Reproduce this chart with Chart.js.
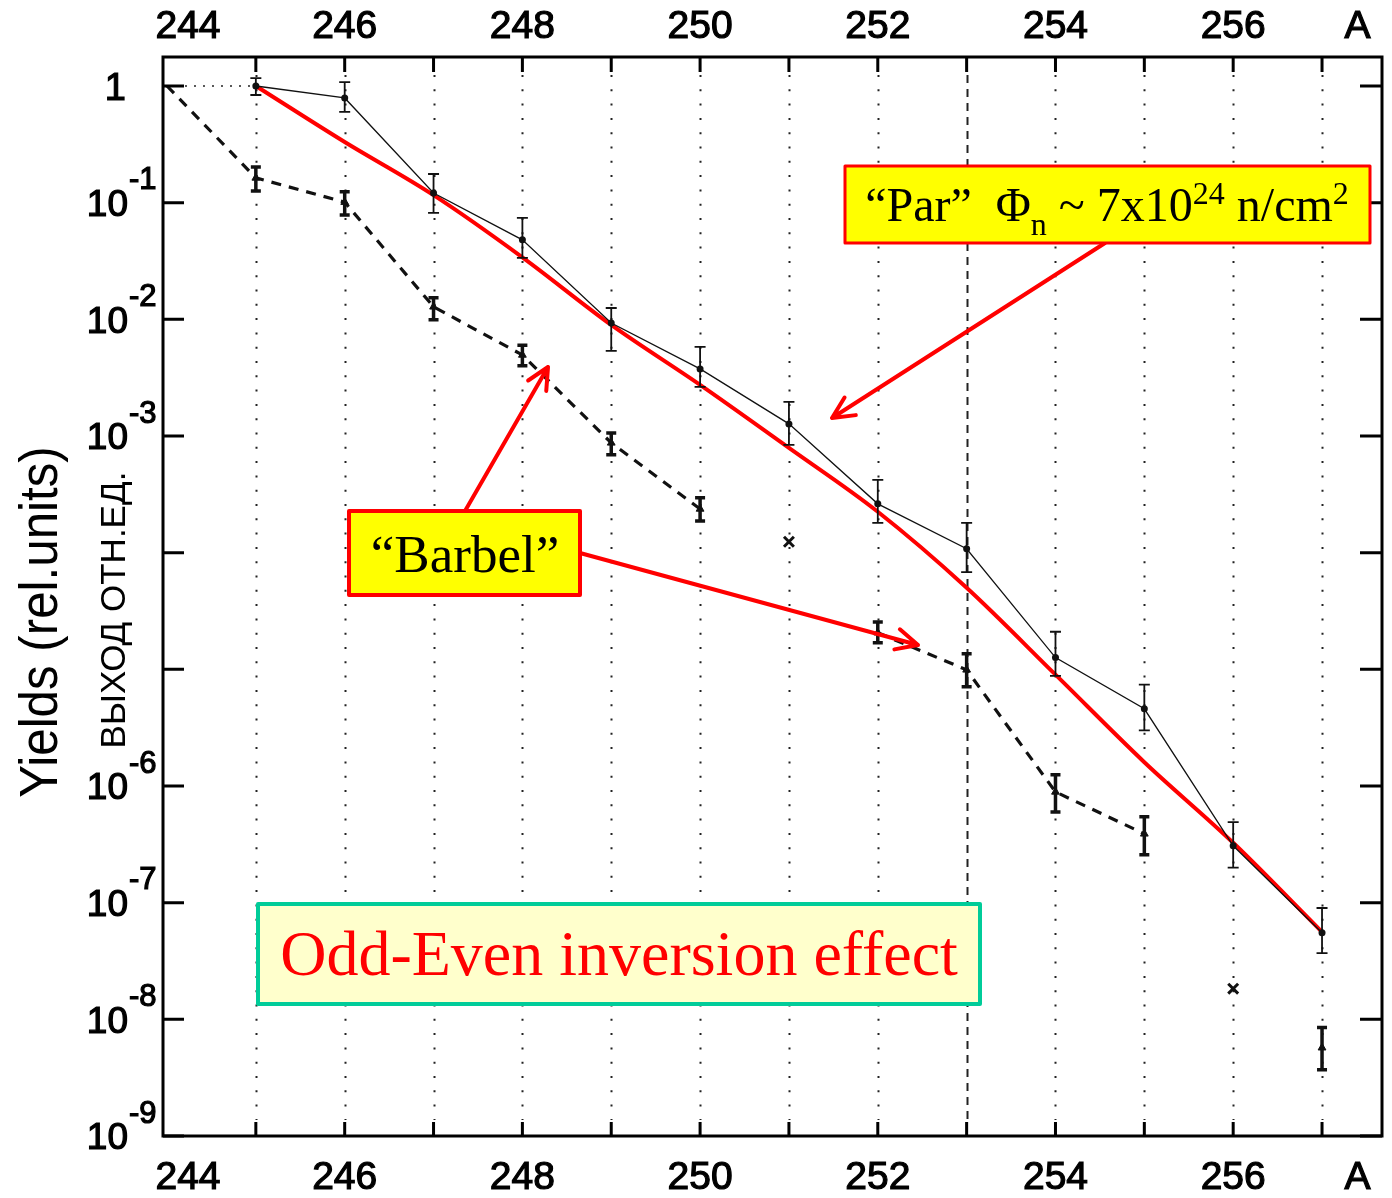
<!DOCTYPE html>
<html>
<head>
<meta charset="utf-8">
<script src="https://cdn.jsdelivr.net/npm/chart.js@4.4.1/dist/chart.umd.min.js"></script>
<style>
html, body { margin: 0; padding: 0; background: #fff; }
#wrap { width: 1392px; height: 1198px; }
</style>
</head>
<body>
<div id="wrap"><canvas id="chart" width="1392" height="1198"></canvas></div>
<script>
// mass numbers A
const massA = [245, 246, 247, 248, 249, 250, 251, 252, 253, 254, 255, 256, 257]
// "Par" measured yields (thin solid line) and error limits
const parYield = [1.0, 0.79, 0.121, 0.048, 0.0093, 0.00376, 0.00127, 2.62e-4, 1.08e-4, 1.26e-5, 4.59e-6, 3.07e-7, 5.52e-8]
const parErrHi = [1.17, 1.08, 0.176, 0.074, 0.0125, 0.0058, 0.00196, 4.2e-4, 1.8e-4, 2.1e-5, 7.4e-6, 4.9e-7, 9.0e-8]
const parErrLo = [0.837, 0.60, 0.0816, 0.0336, 0.00536, 0.00264, 8.4e-4, 1.8e-4, 6.8e-5, 8.8e-6, 3.0e-6, 2.0e-7, 3.7e-8]
// red calculated curve
const fitYield = [1.0, 0.331, 0.116, 0.034, 0.00895, 0.00274, 7.9e-4, 2.24e-4, 5.0e-5, 9.0e-6, 1.6e-6, 3.26e-7, 5.6e-8]
// "Barbel" yields (dashed line), null = no connected point
const barbelA = [244, 245, 246, 247, 248, 249, 250, 251, 252, 253, 254, 255, 256, 257]
const barbelYield = [1.0, 0.163, 0.101, 0.0128, 0.00495, 8.73e-4, 2.37e-4, null, 2.06e-5, 9.9e-6, 8.9e-7, 3.89e-7, null, 5.71e-9]
const barbelErrHi = [null, 0.202, 0.124, 0.0153, 0.0060, 0.00106, 2.95e-4, null, 2.55e-5, 1.36e-5, 1.25e-6, 5.45e-7, null, 8.5e-9]
const barbelErrLo = [null, 0.126, 0.0785, 0.0099, 0.0040, 6.9e-4, 1.87e-4, null, 1.69e-5, 7.08e-6, 6.0e-7, 2.57e-7, null, 3.7e-9]
// upper limits shown as crosses
const crossA = [251, 256]
const crossYield = [1.24e-4, 1.83e-8]
// dotted link 244 -> 245
const linkA = [244, 245]
const linkYield = [1.0, 1.0]

// axis ticks and labels
const xTickValues = [245, 246, 247, 248, 249, 250, 251, 252, 253, 254, 255, 256, 257]
const xLabelValues = [244, 246, 248, 250, 252, 254, 256, 257.4]
const xLabelTexts = ['244', '246', '248', '250', '252', '254', '256', 'A']
const yTickExp = [0, -1, -2, -3, -4, -5, -6, -7, -8, -9]
const yLabelExp = [0, -1, -2, -3, -6, -7, -8, -9]

function pts(xs, ys) {
    return xs.map((x, i) => ({x: x, y: ys[i]}))
}

const SANS = '"Liberation Sans", Arial, sans-serif'
const SERIF = '"Liberation Serif", "Times New Roman", serif'

function errBars(ctx, xs, ys, lo, hi, sx, sy, lw, cap) {
    ctx.save()
    ctx.strokeStyle = '#111'
    ctx.lineWidth = lw
    for (let i = 0; i < xs.length; i++) {
        if (lo[i] == null || hi[i] == null) continue
        const px = sx.getPixelForValue(xs[i])
        const y1 = sy.getPixelForValue(hi[i])
        const y2 = sy.getPixelForValue(lo[i])
        ctx.beginPath()
        ctx.moveTo(px, y1); ctx.lineTo(px, y2)
        ctx.moveTo(px - cap, y1); ctx.lineTo(px + cap, y1)
        ctx.moveTo(px - cap, y2); ctx.lineTo(px + cap, y2)
        ctx.stroke()
    }
    ctx.restore()
}

function arrow(ctx, x1, y1, x2, y2) {
    const a = Math.atan2(y2 - y1, x2 - x1)
    const L = 24, w = 0.45
    ctx.beginPath()
    ctx.moveTo(x1, y1); ctx.lineTo(x2, y2)
    ctx.moveTo(x2 - L * Math.cos(a - w), y2 - L * Math.sin(a - w))
    ctx.lineTo(x2, y2)
    ctx.lineTo(x2 - L * Math.cos(a + w), y2 - L * Math.sin(a + w))
    ctx.stroke()
}

function richText(ctx, runs, cx, y, family) {
    let total = 0
    runs.forEach(r => {
        ctx.font = r.size + 'px ' + family
        r.w = ctx.measureText(r.t).width
        total += r.w
    })
    let x = cx - total / 2
    ctx.textAlign = 'left'
    ctx.textBaseline = 'alphabetic'
    runs.forEach(r => {
        ctx.font = r.size + 'px ' + family
        ctx.fillText(r.t, x, y + (r.dy || 0))
        x += r.w
    })
}

function box(ctx, x, y, w, h, fill, stroke, lw) {
    ctx.fillStyle = fill
    ctx.fillRect(x, y, w, h)
    ctx.strokeStyle = stroke
    ctx.lineWidth = lw
    ctx.strokeRect(x, y, w, h)
}

// heavier axis text, like the original plot
function heavyText(ctx, t, x, y) {
    ctx.fillText(t, x, y)
    ctx.strokeText(t, x, y)
}

const gridPlugin = {
    id: 'gridPlugin',
    beforeDatasetsDraw(chart) {
        const {ctx, chartArea: a, scales: {x}} = chart
        ctx.save()
        ctx.strokeStyle = '#222'
        xTickValues.forEach(v => {
            const px = Math.round(x.getPixelForValue(v)) + 0.5
            ctx.beginPath()
            ctx.lineWidth = 2
            ctx.setLineDash(v === 253 ? [8, 6] : [2, 12.3])
            ctx.moveTo(px, a.top + 18); ctx.lineTo(px, a.bottom - 16)
            ctx.stroke()
        })
        ctx.restore()
    },
    afterDatasetsDraw(chart) {
        const {ctx, chartArea: a, scales: {x, y}} = chart
        errBars(ctx, massA, parYield, parErrLo, parErrHi, x, y, 1.8, 5.5)
        errBars(ctx, barbelA, barbelYield, barbelErrLo, barbelErrHi, x, y, 3.5, 5)

        ctx.save()
        // frame
        ctx.strokeStyle = '#000'
        ctx.lineWidth = 3
        ctx.strokeRect(a.left, a.top, a.right - a.left, a.bottom - a.top)
        // x ticks, top and bottom
        ctx.beginPath()
        xTickValues.forEach(v => {
            const px = x.getPixelForValue(v)
            ctx.moveTo(px, a.top); ctx.lineTo(px, a.top + 15)
            ctx.moveTo(px, a.bottom); ctx.lineTo(px, a.bottom - 14)
        })
        // y ticks, left and right
        yTickExp.forEach(e => {
            const py = y.getPixelForValue(Math.pow(10, e))
            ctx.moveTo(a.left, py); ctx.lineTo(a.left + 21, py)
            ctx.moveTo(a.right, py); ctx.lineTo(a.right - 22, py)
        })
        ctx.stroke()

        // x labels
        ctx.fillStyle = '#000'
        ctx.strokeStyle = '#000'
        ctx.lineWidth = 1.2
        ctx.font = '39px ' + SANS
        ctx.textAlign = 'center'
        ctx.textBaseline = 'middle'
        xLabelValues.forEach((v, i) => {
            let px = x.getPixelForValue(v)
            if (i === 0) px += 21
            heavyText(ctx, xLabelTexts[i], px, 27)
            heavyText(ctx, xLabelTexts[i], px, 1178)
        })

        // y labels
        yLabelExp.forEach(e => {
            const py = y.getPixelForValue(Math.pow(10, e))
            ctx.textBaseline = 'middle'
            if (e === 0) {
                ctx.font = '38px ' + SANS
                ctx.textAlign = 'right'
                heavyText(ctx, '1', 126, py + 4)
            } else {
                ctx.font = '37px ' + SANS
                ctx.textAlign = 'right'
                heavyText(ctx, '10', 128, py + 3)
                ctx.font = '31px ' + SANS
                ctx.textAlign = 'left'
                heavyText(ctx, '-' + Math.abs(e), 129, py - 22)
            }
        })

        // y titles
        ctx.save()
        ctx.translate(57, 622)
        ctx.rotate(-Math.PI / 2)
        ctx.scale(0.93, 1)
        ctx.font = '53px ' + SANS
        ctx.textAlign = 'center'
        ctx.textBaseline = 'alphabetic'
        ctx.fillText('Yields (rel.units)', 0, 0)
        ctx.restore()
        ctx.save()
        ctx.translate(125, 610)
        ctx.rotate(-Math.PI / 2)
        ctx.font = '35px ' + SANS
        ctx.textAlign = 'center'
        ctx.textBaseline = 'alphabetic'
        ctx.fillText('ВЫХОД ОТН.ЕД.', 0, 0)
        ctx.restore()

        // arrows
        ctx.strokeStyle = '#ff0000'
        ctx.lineWidth = 4
        ctx.lineCap = 'round'
        ctx.lineJoin = 'round'
        arrow(ctx, 1105, 243, 832, 418)
        arrow(ctx, 465, 511, 548, 367)
        arrow(ctx, 580, 553, 918, 645)

        // annotation boxes
        box(ctx, 845, 166, 525, 77, '#ffff00', '#ff0000', 3)
        ctx.fillStyle = '#000'
        richText(ctx, [
            {t: '\u201cPar\u201d  \u03a6', size: 48},
            {t: 'n', size: 32, dy: 14},
            {t: ' ~ 7x10', size: 48},
            {t: '24', size: 32, dy: -17},
            {t: ' n/cm', size: 48},
            {t: '2', size: 32, dy: -17}
        ], 1107, 221, SERIF)

        box(ctx, 349, 511, 231, 84, '#ffff00', '#ff0000', 4)
        ctx.fillStyle = '#000'
        richText(ctx, [{t: '\u201cBarbel\u201d', size: 53}], 465, 572, SERIF)

        box(ctx, 258, 904, 722, 100, '#ffffcc', '#00cc99', 4)
        ctx.fillStyle = '#ff0000'
        richText(ctx, [{t: 'Odd-Even inversion effect', size: 64}], 619, 975, SERIF)
        ctx.restore()
    }
}

const barbelRadius = barbelA.map(a => a === 244 ? 0 : 4.5)

new Chart(document.getElementById('chart'), {
    type: 'line',
    data: {
        datasets: [
            {
                label: 'Par',
                data: pts(massA, parYield),
                borderColor: '#111',
                borderWidth: 1.3,
                pointStyle: 'circle',
                pointRadius: 3.5,
                pointBackgroundColor: '#111',
                pointBorderWidth: 0,
                tension: 0,
                order: 0
            },
            {
                label: 'link',
                data: pts(linkA, linkYield),
                borderColor: '#222',
                borderWidth: 1.5,
                borderDash: [2, 7],
                pointRadius: 0,
                order: 1
            },
            {
                label: 'calc',
                data: pts(massA, fitYield),
                borderColor: '#ff0000',
                borderWidth: 4,
                pointRadius: 0,
                cubicInterpolationMode: 'monotone',
                order: 2
            },
            {
                label: 'Barbel',
                data: pts(barbelA, barbelYield),
                borderColor: '#111',
                borderWidth: 3.2,
                borderDash: [10, 8],
                spanGaps: false,
                pointStyle: 'triangle',
                pointRadius: barbelRadius,
                pointBackgroundColor: '#111',
                pointBorderColor: '#111',
                pointBorderWidth: 1,
                tension: 0,
                order: 3
            },
            {
                label: 'limits',
                data: pts(crossA, crossYield),
                showLine: false,
                pointStyle: 'crossRot',
                pointRadius: 7,
                pointBorderColor: '#111',
                pointBorderWidth: 3,
                order: 4
            }
        ]
    },
    options: {
        responsive: false,
        animation: false,
        devicePixelRatio: 1,
        layout: {padding: {left: 163, top: 57, right: 9, bottom: 62}},
        plugins: {legend: {display: false}, tooltip: {enabled: false}},
        scales: {
            x: {type: 'linear', min: 243.955, max: 257.675, display: false},
            y: {type: 'logarithmic', min: 1e-9, max: 1.772, display: false}
        }
    },
    plugins: [gridPlugin]
})
</script>
</body>
</html>
